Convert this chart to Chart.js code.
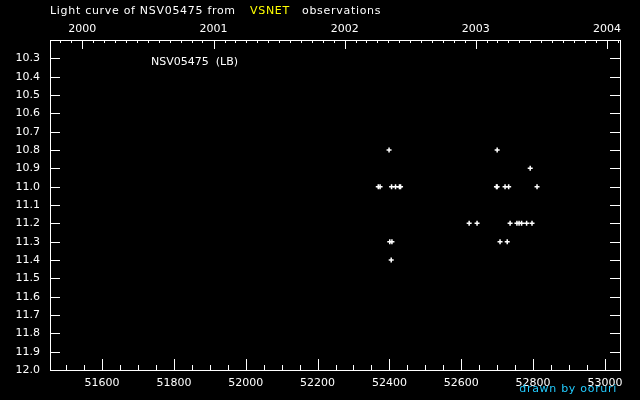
<!DOCTYPE html>
<html lang="en">
<head>
    <meta charset="UTF-8">
    <title>Light curve of NSV05475</title>
    <script src="https://cdn.jsdelivr.net/npm/chart.js"></script>
    <style>
        body { margin: 0; background: #000; }
        canvas { display: block; }
    </style>
</head>
<body>
    <canvas id="lc" width="640" height="400"></canvas>

    <script>
        // observations: JD - 2400000 and visual magnitude
        const jd = [
            52399, 52369, 52374, 52406, 52417, 52428, 52431, 52401, 52407, 52405,
            52700, 52792, 52698, 52700, 52722, 52732, 52811,
            52622, 52644, 52736, 52755, 52761, 52768, 52782, 52797,
            52708, 52728
        ];
        const mag = [
            10.8, 11.0, 11.0, 11.0, 11.0, 11.0, 11.0, 11.3, 11.3, 11.4,
            10.8, 10.9, 11.0, 11.0, 11.0, 11.0, 11.0,
            11.2, 11.2, 11.2, 11.2, 11.2, 11.2, 11.2, 11.2,
            11.3, 11.3
        ];
        const jdTicks = [51600, 51800, 52000, 52200, 52400, 52600, 52800, 53000];
        const yearTicks = [2000, 2001, 2002, 2003, 2004];
        const magTicks = ['10.3', '10.4', '10.5', '10.6', '10.7', '10.8', '10.9', '11.0', '11.1',
            '11.2', '11.3', '11.4', '11.5', '11.6', '11.7', '11.8', '11.9', '12.0'];

        const FONT = { family: 'DejaVu Sans', size: 11 };
        const jdMin = 51455, jdMax = 53042;

        // JD-2400000 of a UTC date
        const jdOf = (y, m) => Date.UTC(y, m, 1) / 86400000 + 40587.5;

        const framePlugin = {
            id: 'frame',
            afterDraw(chart) {
                const ctx = chart.ctx;
                const a = chart.chartArea;
                const x = chart.scales.x, y = chart.scales.y;
                ctx.save();
                ctx.strokeStyle = '#fff';
                ctx.lineWidth = 1;
                ctx.strokeRect(a.left + 0.5, a.top + 0.5, a.right - a.left, a.bottom - a.top);

                ctx.beginPath();
                // bottom: every 50, long on labelled ones
                for (let v = 51500; v <= jdMax; v += 50) {
                    const px = Math.round(x.getPixelForValue(v)) + 0.5;
                    const len = jdTicks.includes(v) ? 11 : 5;
                    ctx.moveTo(px, a.bottom);
                    ctx.lineTo(px, a.bottom - len);
                }
                // top: months, long on years
                for (let yr = 1999; yr <= 2004; yr++) {
                    for (let m = 0; m < 12; m++) {
                        const v = jdOf(yr, m);
                        if (v < jdMin || v > jdMax) continue;
                        const px = Math.round(x.getPixelForValue(v)) + 0.5;
                        const len = m === 0 ? 9 : 3;
                        ctx.moveTo(px, a.top);
                        ctx.lineTo(px, a.top + len);
                    }
                }
                // left and right: every 0.1 mag
                magTicks.forEach(t => {
                    const py = Math.round(y.getPixelForValue(parseFloat(t))) + 0.5;
                    ctx.moveTo(a.left, py);
                    ctx.lineTo(a.left + 10, py);
                    ctx.moveTo(a.right, py);
                    ctx.lineTo(a.right - 10, py);
                });
                ctx.stroke();

                ctx.font = '11px "DejaVu Sans"';
                ctx.letterSpacing = '0.7px';
                ctx.textBaseline = 'middle';
                ctx.textAlign = 'left';
                ctx.fillStyle = '#fff';
                ctx.fillText('Light curve of NSV05475 from', 50, 11);
                ctx.fillStyle = '#ffff00';
                ctx.fillText('VSNET', 250, 11);
                ctx.fillStyle = '#fff';
                ctx.fillText('observations', 302, 11);
                ctx.letterSpacing = '0px';
                ctx.fillText('NSV05475  (LB)', 151, 62);
                ctx.letterSpacing = '0.7px';
                ctx.textAlign = 'right';
                ctx.fillStyle = '#22ccff';
                ctx.fillText('drawn by ooruri', 617, 389);
                ctx.restore();
            }
        };

        const noGrid = { display: false, drawTicks: false };

        new Chart(document.getElementById('lc'), {
            type: 'scatter',
            data: {
                datasets: [{
                    data: jd.map((v, i) => ({ x: v, y: mag[i] })),
                    pointStyle: 'cross',
                    radius: 2.5,
                    borderWidth: 1.5,
                    borderColor: '#fff',
                    backgroundColor: '#fff'
                }]
            },
            options: {
                responsive: false,
                animation: false,
                layout: { padding: { right: 20, left: 0, top: 0, bottom: 0 } },
                plugins: { legend: { display: false }, tooltip: { enabled: false } },
                scales: {
                    x: {
                        type: 'linear', position: 'bottom', min: jdMin, max: jdMax,
                        grid: noGrid, border: { display: false },
                        ticks: { color: '#fff', font: FONT, padding: 7, maxRotation: 0, callback: v => String(v) },
                        afterBuildTicks: s => { s.ticks = jdTicks.map(v => ({ value: v })); },
                        afterFit: s => { s.height = 30; }
                    },
                    x2: {
                        type: 'linear', position: 'top', min: jdMin, max: jdMax,
                        grid: noGrid, border: { display: false },
                        ticks: {
                            color: '#fff', font: FONT, padding: 4, maxRotation: 0,
                            callback: (v, i) => String(yearTicks[i])
                        },
                        afterBuildTicks: s => { s.ticks = yearTicks.map(yr => ({ value: jdOf(yr, 0) })); },
                        afterFit: s => { s.height = 40; }
                    },
                    y: {
                        type: 'linear', reverse: true, min: 10.2, max: 12.0,
                        grid: noGrid, border: { display: false },
                        ticks: { color: '#fff', font: FONT, padding: 10, callback: (v, i) => magTicks[i] },
                        afterBuildTicks: s => { s.ticks = magTicks.map(t => ({ value: parseFloat(t) })); },
                        afterFit: s => { s.width = 50; }
                    }
                }
            },
            plugins: [framePlugin]
        });
    </script>
</body>
</html>
